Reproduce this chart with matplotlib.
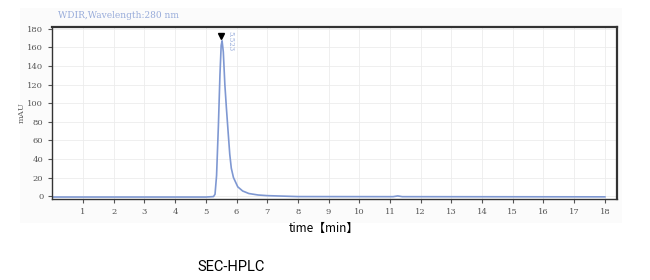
import matplotlib
matplotlib.use("Agg")
import matplotlib.pyplot as plt
from matplotlib.patches import Rectangle

# chromatogram (time in min, signal in mAU)
time_min = [0.0, 5.0, 5.25, 5.30, 5.35, 5.41, 5.46, 5.50, 5.53, 5.57, 5.62,
            5.67, 5.72, 5.78, 5.83, 5.90, 6.04, 6.2, 6.4, 6.7, 7.0, 7.5,
            8.0, 11.1, 11.25, 11.4, 18.0]
signal_mau = [-1.0, -1.0, -0.5, 2, 22, 76, 130, 162, 167, 155, 120,
              95, 72, 45, 30, 20, 10, 5.5, 2.8, 1.2, 0.5, 0.0,
              -0.5, -0.6, 0.2, -0.6, -0.8]

peak_time = 5.5
peak_height = 172
peak_label = "5.523"

x_ticks = list(range(1, 19))
y_ticks = list(range(0, 181, 20))

serif = "DejaVu Serif"
blue = "#7f98d2"

fig = plt.figure(figsize=(6.5, 2.8), dpi=100)
fig.patches.append(Rectangle((20 / 650, 1 - 223 / 280), 602 / 650, 215 / 280,
                             transform=fig.transFigure, facecolor="#fbfbfb",
                             edgecolor="none", zorder=-1))
ax = fig.add_axes([0.0805, 0.288, 0.869, 0.616])

ax.plot(time_min, signal_mau, color=blue, lw=1.2)
ax.plot([peak_time], [peak_height], marker="v", color="black", ms=4)
ax.text(peak_time + 0.17, peak_height + 6, peak_label, rotation=-90,
        color=blue, fontsize=5, family=serif, va="top", ha="left", alpha=0.8)

ax.set_xlim(0, 18.4)
ax.set_ylim(-3.5, 182)
ax.set_xticks(x_ticks)
ax.set_yticks(y_ticks)
ax.tick_params(labelsize=6, colors="#555555", length=3, width=0.8)
for lab in ax.get_xticklabels() + ax.get_yticklabels():
    lab.set_family(serif)
ax.grid(True, color="#ececec", lw=0.6)
ax.set_axisbelow(True)
for s in ax.spines.values():
    s.set_color("#333333")
    s.set_linewidth(1.0)
ax.spines["top"].set_linewidth(1.6)
ax.spines["right"].set_linewidth(1.6)

fig.text(58 / 650, 1 - 15 / 280, "WDIR,Wavelength:280 nm", color=blue,
         fontsize=6.5, family=serif, va="center", ha="left", alpha=0.8)
fig.text(22 / 650, 1 - 113 / 280, "mAU", rotation=90, color="#666666",
         fontsize=6, family=serif, va="center", ha="center")

fig.text(324 / 650, 1 - 228 / 280, "time【min】", fontsize=8.5,
         family=["Noto Sans CJK JP", "DejaVu Sans"], va="center", ha="center")
fig.text(231 / 650, 1 - 267 / 280, "SEC-HPLC", fontsize=10.5,
         family="Roboto", va="center", ha="center")

fig.savefig("out.png", dpi=100)
